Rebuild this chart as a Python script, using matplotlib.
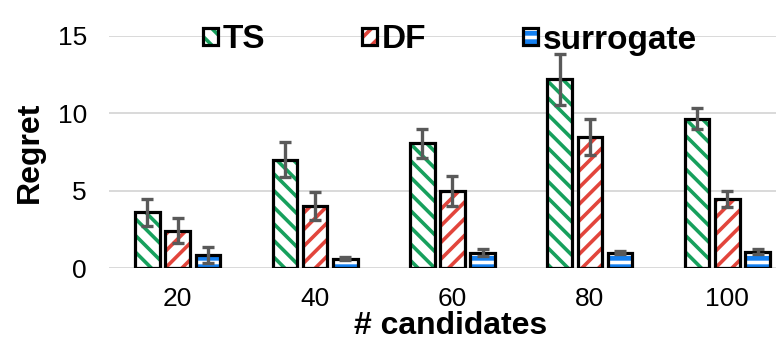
import matplotlib
matplotlib.use("Agg")
import matplotlib.pyplot as plt
from matplotlib.patches import Patch
from matplotlib.legend_handler import HandlerTuple
import numpy as np

candidates = ['20', '40', '60', '80', '100']
series_names = ['TS', 'DF', 'surrogate']
ts = [3.6, 7.0, 8.05, 12.2, 9.65]
ts_err = [0.87, 1.15, 0.95, 1.65, 0.7]
df = [2.4, 4.0, 5.0, 8.45, 4.45]
df_err = [0.8, 0.9, 0.97, 1.15, 0.5]
sur = [0.85, 0.6, 1.0, 1.0, 1.05]
sur_err = [0.5, 0.1, 0.2, 0.1, 0.15]
yticks = [0, 5, 10, 15]

plt.rcParams['font.family'] = ['Liberation Sans', 'DejaVu Sans']
plt.rcParams['hatch.linewidth'] = 2.6

green = '#17a05d'
red = '#e2453c'
blue = '#1580f0'

styles = [
    dict(face='white', hcol=green, hatch='\\\\'),
    dict(face='white', hcol=red, hatch='//'),
    dict(face=blue, hcol='white', hatch='--'),
]

fig = plt.figure(figsize=(7.76, 3.41), dpi=100)
W, H = 776, 341
ax = fig.add_axes([109 / W, (341 - 268) / H, 687 / W, (268 - 35.7) / H])

x = np.arange(len(candidates))
width = 0.18
offsets = [-0.22, 0.0, 0.22]
vals = [ts, df, sur]
errs = [ts_err, df_err, sur_err]

for v, e, off, st in zip(vals, errs, offsets, styles):
    ax.bar(x + off, v, width, color=st['face'], edgecolor=st['hcol'],
           linewidth=0, hatch=st['hatch'], zorder=2)
    ax.bar(x + off, v, width, fill=False, edgecolor='black',
           linewidth=2.3, zorder=3)
    ax.errorbar(x + off, v, yerr=e, fmt='none', ecolor='#595959',
                elinewidth=2.4, capsize=4.3, capthick=2.4, zorder=4)

ax.set_xlim(-0.5, 4.5)
ax.set_ylim(0, 15)
ax.set_yticks(yticks)
ax.set_xticks(x)
ax.set_xticklabels(candidates)
ax.tick_params(axis='both', length=0, labelsize=19)
ax.tick_params(axis='x', pad=14)
ax.tick_params(axis='y', pad=16)
ax.yaxis.grid(True, color='#d9d9d9', linewidth=1.4, zorder=0)
ax.set_axisbelow(True)
for s in ax.spines.values():
    s.set_visible(False)

fig.text(30 / W, 1 - 152 / H, 'Regret', rotation=90, ha='center',
         va='center', fontsize=23, fontweight='bold')
fig.text(451 / W, 1 - 334 / H, '# candidates', ha='center',
         va='baseline', fontsize=23, fontweight='bold')

handles = []
for st in styles:
    p1 = Patch(facecolor=st['face'], edgecolor=st['hcol'], linewidth=0,
               hatch=st['hatch'])
    p2 = Patch(fill=False, edgecolor='black', linewidth=2.3)
    handles.append((p1, p2))

leg = fig.legend(handles, series_names, loc='center',
                 bbox_to_anchor=(450 / W, 1 - 40 / H), ncol=3, frameon=False,
                 handler_map={tuple: HandlerTuple(ndivide=1, pad=0)},
                 handlelength=0.44, handleheight=0.44, handletextpad=0.15,
                 columnspacing=2.9, borderpad=0,
                 prop=dict(size=24, weight='bold'))

fig.savefig('out.png', dpi=100)
